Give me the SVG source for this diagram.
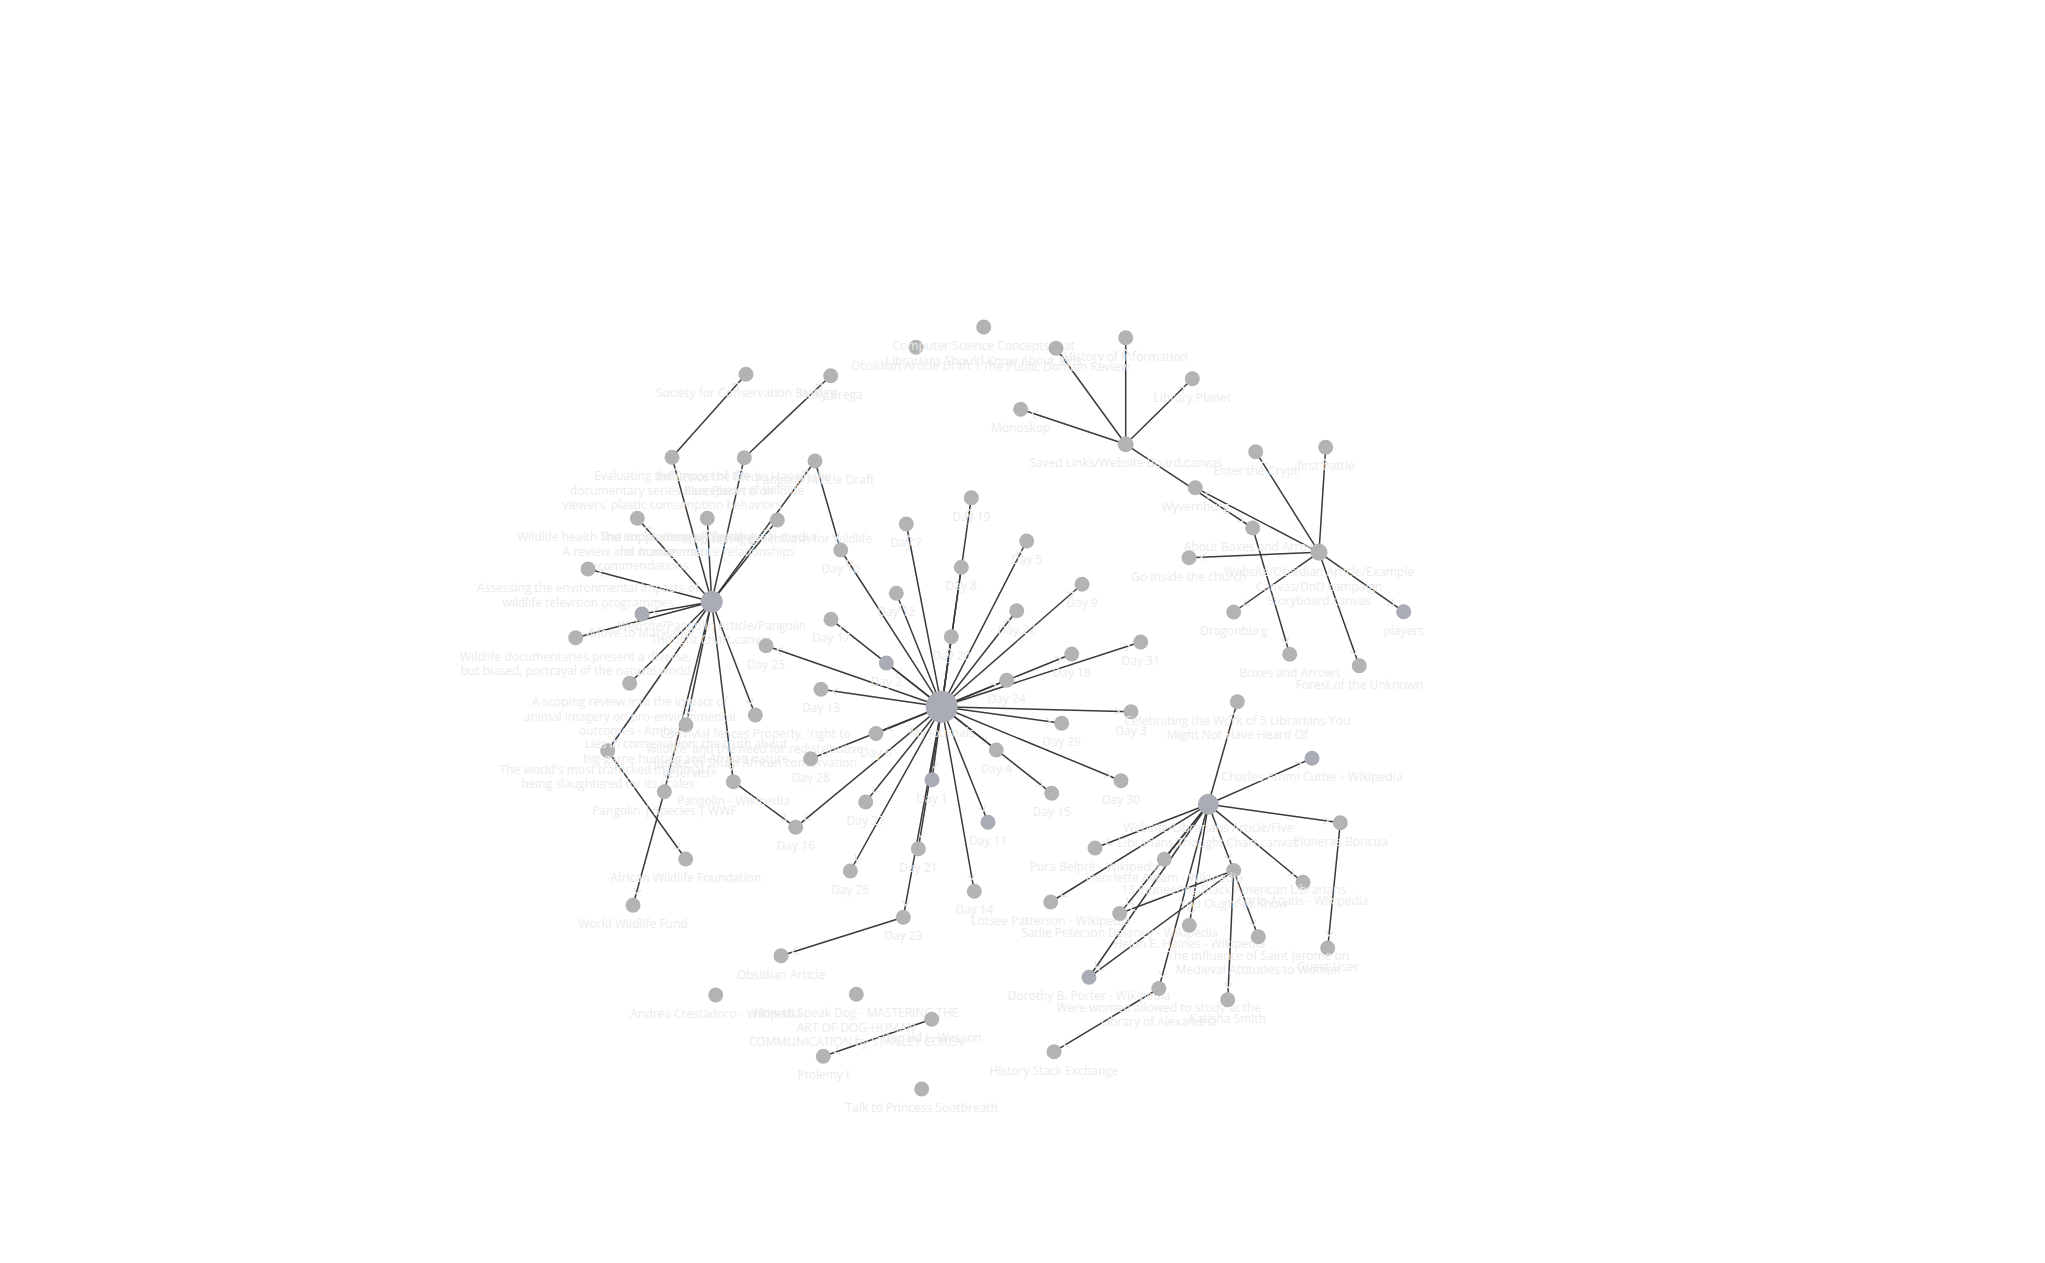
<svg xmlns="http://www.w3.org/2000/svg" width="2045" height="1263" viewBox="0 0 2045 1263">
<style>
.n{fill:#b3b3b3}
.nb{fill:#a9abb5}
.e{stroke:#3a3a3a;stroke-width:1.5;fill:none;marker-end:url(#arr)}
.t{font-family:"Open Sans","Noto Sans",sans-serif;font-size:12px;fill:#ebebeb;text-anchor:middle}
</style>
<defs>
<marker id="arr" markerUnits="userSpaceOnUse" viewBox="-10 -10 30 20" markerWidth="30" markerHeight="20" refX="12" refY="0" orient="auto" overflow="visible">
<path d="M-5,-4 L0,0 L-5,4" fill="none" stroke="#e6e6e6" stroke-width="1.2"/>
</marker>
</defs>
<rect width="2045" height="1263" fill="#ffffff"/>
<g id="connectors">
<line class="e" x1="711.7" y1="601.7" x2="672" y2="457.3"/>
<line class="e" x1="711.7" y1="601.7" x2="744.3" y2="457.7"/>
<line class="e" x1="711.7" y1="601.7" x2="815" y2="461"/>
<line class="e" x1="711.7" y1="601.7" x2="637.3" y2="518.3"/>
<line class="e" x1="711.7" y1="601.7" x2="707.3" y2="518.3"/>
<line class="e" x1="711.7" y1="601.7" x2="777.3" y2="520"/>
<line class="e" x1="711.7" y1="601.7" x2="588" y2="569"/>
<line class="e" x1="711.7" y1="601.7" x2="642" y2="614"/>
<line class="e" x1="711.7" y1="601.7" x2="575.7" y2="637.7"/>
<line class="e" x1="711.7" y1="601.7" x2="629.7" y2="683.3"/>
<line class="e" x1="711.7" y1="601.7" x2="607.7" y2="750.7"/>
<line class="e" x1="711.7" y1="601.7" x2="664.3" y2="791.7"/>
<line class="e" x1="711.7" y1="601.7" x2="686" y2="725"/>
<line class="e" x1="711.7" y1="601.7" x2="733.3" y2="781.7"/>
<line class="e" x1="711.7" y1="601.7" x2="755.3" y2="715"/>
<line class="e" x1="672" y1="457.3" x2="746" y2="374.3"/>
<line class="e" x1="744.3" y1="457.7" x2="830.7" y2="375.7"/>
<line class="e" x1="815" y1="461" x2="840.7" y2="550"/>
<line class="e" x1="607.7" y1="750.7" x2="685.7" y2="859"/>
<line class="e" x1="664.3" y1="791.7" x2="633" y2="905.3"/>
<line class="e" x1="733.3" y1="781.7" x2="795.7" y2="827.3"/>
<line class="e" x1="941.7" y1="706.7" x2="932" y2="779.7"/>
<line class="e" x1="941.7" y1="706.7" x2="886.3" y2="663"/>
<line class="e" x1="941.7" y1="706.7" x2="1131" y2="711.7"/>
<line class="e" x1="941.7" y1="706.7" x2="996.3" y2="750"/>
<line class="e" x1="941.7" y1="706.7" x2="1026.7" y2="541"/>
<line class="e" x1="941.7" y1="706.7" x2="876" y2="733.5"/>
<line class="e" x1="941.7" y1="706.7" x2="906.3" y2="524"/>
<line class="e" x1="941.7" y1="706.7" x2="961.3" y2="567.3"/>
<line class="e" x1="941.7" y1="706.7" x2="1082" y2="584.3"/>
<line class="e" x1="941.7" y1="706.7" x2="840.7" y2="550"/>
<line class="e" x1="941.7" y1="706.7" x2="988" y2="822.3"/>
<line class="e" x1="941.7" y1="706.7" x2="896.3" y2="593.3"/>
<line class="e" x1="941.7" y1="706.7" x2="821" y2="689.3"/>
<line class="e" x1="941.7" y1="706.7" x2="974.3" y2="891.3"/>
<line class="e" x1="941.7" y1="706.7" x2="1051.7" y2="793.3"/>
<line class="e" x1="941.7" y1="706.7" x2="795.7" y2="827.3"/>
<line class="e" x1="941.7" y1="706.7" x2="831" y2="619.3"/>
<line class="e" x1="941.7" y1="706.7" x2="1071.7" y2="654"/>
<line class="e" x1="941.7" y1="706.7" x2="971.3" y2="497.7"/>
<line class="e" x1="941.7" y1="706.7" x2="951.3" y2="636.7"/>
<line class="e" x1="941.7" y1="706.7" x2="918.3" y2="848.7"/>
<line class="e" x1="941.7" y1="706.7" x2="1016.7" y2="610.7"/>
<line class="e" x1="941.7" y1="706.7" x2="903.3" y2="917.3"/>
<line class="e" x1="941.7" y1="706.7" x2="1006.7" y2="680.3"/>
<line class="e" x1="941.7" y1="706.7" x2="766" y2="645.7"/>
<line class="e" x1="941.7" y1="706.7" x2="850.3" y2="871"/>
<line class="e" x1="941.7" y1="706.7" x2="865.7" y2="802"/>
<line class="e" x1="941.7" y1="706.7" x2="810.7" y2="758.7"/>
<line class="e" x1="941.7" y1="706.7" x2="1061.7" y2="723.3"/>
<line class="e" x1="941.7" y1="706.7" x2="1121" y2="780.7"/>
<line class="e" x1="941.7" y1="706.7" x2="1140.7" y2="642"/>
<line class="e" x1="903.3" y1="917.3" x2="781" y2="955.7"/>
<line class="e" x1="931.7" y1="1019.3" x2="823.3" y2="1056.3"/>
<line class="e" x1="1208.3" y1="804.3" x2="1237.3" y2="701.7"/>
<line class="e" x1="1208.3" y1="804.3" x2="1312" y2="758.3"/>
<line class="e" x1="1208.3" y1="804.3" x2="1340.3" y2="822.7"/>
<line class="e" x1="1208.3" y1="804.3" x2="1303" y2="882.3"/>
<line class="e" x1="1208.3" y1="804.3" x2="1233.7" y2="870.5"/>
<line class="e" x1="1208.3" y1="804.3" x2="1095" y2="848"/>
<line class="e" x1="1208.3" y1="804.3" x2="1164.3" y2="859.3"/>
<line class="e" x1="1208.3" y1="804.3" x2="1050.7" y2="902"/>
<line class="e" x1="1208.3" y1="804.3" x2="1119.7" y2="913.5"/>
<line class="e" x1="1208.3" y1="804.3" x2="1189.3" y2="925.3"/>
<line class="e" x1="1208.3" y1="804.3" x2="1089" y2="977.3"/>
<line class="e" x1="1208.3" y1="804.3" x2="1158.8" y2="988.5"/>
<line class="e" x1="1340.3" y1="822.7" x2="1327.7" y2="948"/>
<line class="e" x1="1233.7" y1="870.5" x2="1119.7" y2="913.5"/>
<line class="e" x1="1233.7" y1="870.5" x2="1089" y2="977.3"/>
<line class="e" x1="1233.7" y1="870.5" x2="1227.7" y2="999.7"/>
<line class="e" x1="1233.7" y1="870.5" x2="1258.3" y2="936.7"/>
<line class="e" x1="1158.8" y1="988.5" x2="1054" y2="1051.7"/>
<line class="e" x1="1125.7" y1="444.3" x2="1020.7" y2="409.3"/>
<line class="e" x1="1125.7" y1="444.3" x2="1056" y2="348.3"/>
<line class="e" x1="1125.7" y1="444.3" x2="1125.7" y2="337.7"/>
<line class="e" x1="1125.7" y1="444.3" x2="1192.3" y2="378.7"/>
<line class="e" x1="1125.7" y1="444.3" x2="1252.7" y2="528"/>
<line class="e" x1="1252.7" y1="528" x2="1289.7" y2="654.3"/>
<line class="e" x1="1319" y1="552.3" x2="1255.7" y2="451.7"/>
<line class="e" x1="1319" y1="552.3" x2="1325.7" y2="447.3"/>
<line class="e" x1="1319" y1="552.3" x2="1195.3" y2="487.7"/>
<line class="e" x1="1319" y1="552.3" x2="1189" y2="557.7"/>
<line class="e" x1="1319" y1="552.3" x2="1233.7" y2="612"/>
<line class="e" x1="1319" y1="552.3" x2="1359.3" y2="665.7"/>
<line class="e" x1="1319" y1="552.3" x2="1403.7" y2="611.7"/>
</g>
<g id="n-pangolin-hub"><circle class="nb" cx="711.7" cy="601.7" r="11"/><text class="t" x="711.7" y="629.7"><tspan x="711.7">Website/Pangolin Article/Pangolin</tspan><tspan x="711.7" dy="14.5">Thought Chart.canvas</tspan></text></g>
<g id="n-evaluating"><circle class="n" cx="672" cy="457.3" r="7.5"/><text class="t" x="672" y="480.3"><tspan x="672">Evaluating the impact of the</tspan><tspan x="672" dy="14.5">documentary series Blue Planet II on</tspan><tspan x="672" dy="14.5">viewers' plastic consumption behaviors</tspan></text></g>
<g id="n-scb"><circle class="n" cx="746" cy="374.3" r="7.5"/><text class="t" x="746" y="397.3">Society for Conservation Biology</text></g>
<g id="n-influence"><circle class="n" cx="744.3" cy="457.7" r="7.5"/><text class="t" x="744.3" y="480.7"><tspan x="744.3">Influence the Media Has on the</tspan><tspan x="744.3" dy="14.5">Perception of Wildlife</tspan></text></g>
<g id="n-holly"><circle class="n" cx="830.7" cy="375.7" r="7.5"/><text class="t" x="830.7" y="398.7">Holly Brega</text></g>
<g id="n-pangolin-draft"><circle class="n" cx="815" cy="461" r="7.5"/><text class="t" x="815" y="484">Pangolin Article Draft</text></g>
<g id="n-wildlife-health"><circle class="n" cx="637.3" cy="518.3" r="7.5"/><text class="t" x="637.3" y="541.3"><tspan x="637.3">Wildlife health and supplementary feeding:</tspan><tspan x="637.3" dy="14.5">A review and management</tspan><tspan x="637.3" dy="14.5">recommendations</tspan></text></g>
<g id="n-implications"><circle class="n" cx="707.3" cy="518.3" r="7.5"/><text class="t" x="707.3" y="541.3"><tspan x="707.3">The implications of digital visual media</tspan><tspan x="707.3" dy="14.5">for human-nature relationships</tspan></text></g>
<g id="n-stop-saying"><circle class="n" cx="777.3" cy="520" r="7.5"/><text class="t" x="777.3" y="543">Stop saying greenwash for wildlife</text></g>
<g id="n-assessing"><circle class="n" cx="588" cy="569" r="7.5"/><text class="t" x="588" y="592"><tspan x="588">Assessing the environmental impacts of</tspan><tspan x="588" dy="14.5">wildlife television programmes</tspan></text></g>
<g id="n-maryland"><circle class="nb" cx="642" cy="614" r="7.5"/><text class="t" x="642" y="637">Move to Maryland!</text></g>
<g id="n-documentaries"><circle class="n" cx="575.7" cy="637.7" r="7.5"/><text class="t" x="575.7" y="660.7"><tspan x="575.7">Wildlife documentaries present a diverse,</tspan><tspan x="575.7" dy="14.5">but biased, portrayal of the natural world</tspan></text></g>
<g id="n-scoping"><circle class="n" cx="629.7" cy="683.3" r="7.5"/><text class="t" x="629.7" y="706.3"><tspan x="629.7">A scoping review into the impact of</tspan><tspan x="629.7" dy="14.5">animal imagery on pro-environmental</tspan><tspan x="629.7" dy="14.5">outcomes - Ambio</tspan></text></g>
<g id="n-trafficked"><circle class="n" cx="607.7" cy="750.7" r="7.5"/><text class="t" x="607.7" y="773.7"><tspan x="607.7">The world's most trafficked mammal is</tspan><tspan x="607.7" dy="14.5">being slaughtered for its scales</tspan></text></g>
<g id="n-awf"><circle class="n" cx="685.7" cy="859" r="7.5"/><text class="t" x="685.7" y="882">African Wildlife Foundation</text></g>
<g id="n-pangolin-wwf"><circle class="n" cx="664.3" cy="791.7" r="7.5"/><text class="t" x="664.3" y="814.7">Pangolin | Species | WWF</text></g>
<g id="n-wwf"><circle class="n" cx="633" cy="905.3" r="7.5"/><text class="t" x="633" y="928.3">World Wildlife Fund</text></g>
<g id="n-lies"><circle class="n" cx="686" cy="725" r="7.5"/><text class="t" x="686" y="748"><tspan x="686">Lies in conservation: the truth about</tspan><tspan x="686" dy="14.5">big-game hunting and African nature</tspan><tspan x="686" dy="14.5">reserves</tspan></text></g>
<g id="n-pangolin-wiki"><circle class="n" cx="733.3" cy="781.7" r="7.5"/><text class="t" x="733.3" y="804.7">Pangolin - Wikipedia</text></g>
<g id="n-convivial"><circle class="n" cx="755.3" cy="715" r="7.5"/><text class="t" x="755.3" y="738"><tspan x="755.3">Convivial fences Property, 'right to</tspan><tspan x="755.3" dy="14.5">wildlife' and the need for redistributive</tspan><tspan x="755.3" dy="14.5">justice in South African conservation</tspan></text></g>
<g id="n-day1"><circle class="nb" cx="932" cy="779.7" r="7.5"/><text class="t" x="932" y="802.7">Day 1</text></g>
<g id="n-day2"><circle class="nb" cx="886.3" cy="663" r="7.5"/><text class="t" x="886.3" y="686">Day 2</text></g>
<g id="n-day3"><circle class="n" cx="1131" cy="711.7" r="7.5"/><text class="t" x="1131" y="734.7">Day 3</text></g>
<g id="n-day4"><circle class="n" cx="996.3" cy="750" r="7.5"/><text class="t" x="996.3" y="773">Day 4</text></g>
<g id="n-day5"><circle class="n" cx="1026.7" cy="541" r="7.5"/><text class="t" x="1026.7" y="564">Day 5</text></g>
<g id="n-day6"><circle class="n" cx="876" cy="733.5" r="7.5"/><text class="t" x="876" y="756.5">Day 6</text></g>
<g id="n-day7"><circle class="n" cx="906.3" cy="524" r="7.5"/><text class="t" x="906.3" y="547">Day 7</text></g>
<g id="n-day8"><circle class="n" cx="961.3" cy="567.3" r="7.5"/><text class="t" x="961.3" y="590.3">Day 8</text></g>
<g id="n-day9"><circle class="n" cx="1082" cy="584.3" r="7.5"/><text class="t" x="1082" y="607.3">Day 9</text></g>
<g id="n-day10"><circle class="n" cx="840.7" cy="550" r="7.5"/><text class="t" x="840.7" y="573">Day 10</text></g>
<g id="n-day11"><circle class="nb" cx="988" cy="822.3" r="7.5"/><text class="t" x="988" y="845.3">Day 11</text></g>
<g id="n-day12"><circle class="n" cx="896.3" cy="593.3" r="7.5"/><text class="t" x="896.3" y="616.3">Day 12</text></g>
<g id="n-day13"><circle class="n" cx="821" cy="689.3" r="7.5"/><text class="t" x="821" y="712.3">Day 13</text></g>
<g id="n-day14"><circle class="n" cx="974.3" cy="891.3" r="7.5"/><text class="t" x="974.3" y="914.3">Day 14</text></g>
<g id="n-day15"><circle class="n" cx="1051.7" cy="793.3" r="7.5"/><text class="t" x="1051.7" y="816.3">Day 15</text></g>
<g id="n-day16"><circle class="n" cx="795.7" cy="827.3" r="7.5"/><text class="t" x="795.7" y="850.3">Day 16</text></g>
<g id="n-day17"><circle class="n" cx="831" cy="619.3" r="7.5"/><text class="t" x="831" y="642.3">Day 17</text></g>
<g id="n-day18"><circle class="n" cx="1071.7" cy="654" r="7.5"/><text class="t" x="1071.7" y="677">Day 18</text></g>
<g id="n-day19"><circle class="n" cx="971.3" cy="497.7" r="7.5"/><text class="t" x="971.3" y="520.7">Day 19</text></g>
<g id="n-day20"><circle class="n" cx="951.3" cy="636.7" r="7.5"/><text class="t" x="951.3" y="659.7">Day 20</text></g>
<g id="n-day21"><circle class="n" cx="918.3" cy="848.7" r="7.5"/><text class="t" x="918.3" y="871.7">Day 21</text></g>
<g id="n-day22"><circle class="n" cx="1016.7" cy="610.7" r="7.5"/><text class="t" x="1016.7" y="633.7">Day 22</text></g>
<g id="n-day23"><circle class="n" cx="903.3" cy="917.3" r="7.5"/><text class="t" x="903.3" y="940.3">Day 23</text></g>
<g id="n-day24"><circle class="n" cx="1006.7" cy="680.3" r="7.5"/><text class="t" x="1006.7" y="703.3">Day 24</text></g>
<g id="n-day25"><circle class="n" cx="766" cy="645.7" r="7.5"/><text class="t" x="766" y="668.7">Day 25</text></g>
<g id="n-day26"><circle class="n" cx="850.3" cy="871" r="7.5"/><text class="t" x="850.3" y="894">Day 26</text></g>
<g id="n-day27"><circle class="n" cx="865.7" cy="802" r="7.5"/><text class="t" x="865.7" y="825">Day 27</text></g>
<g id="n-day28"><circle class="n" cx="810.7" cy="758.7" r="7.5"/><text class="t" x="810.7" y="781.7">Day 28</text></g>
<g id="n-day29"><circle class="n" cx="1061.7" cy="723.3" r="7.5"/><text class="t" x="1061.7" y="746.3">Day 29</text></g>
<g id="n-day30"><circle class="n" cx="1121" cy="780.7" r="7.5"/><text class="t" x="1121" y="803.7">Day 30</text></g>
<g id="n-day31"><circle class="n" cx="1140.7" cy="642" r="7.5"/><text class="t" x="1140.7" y="665">Day 31</text></g>
<g id="n-journal-hub"><circle class="nb" cx="941.7" cy="706.7" r="16"/><text class="t" x="941.7" y="736.7">My Journals</text></g>
<g id="n-obsidian-article"><circle class="n" cx="781" cy="955.7" r="7.5"/><text class="t" x="781" y="978.7">Obsidian Article</text></g>
<g id="n-crestadoro"><circle class="n" cx="715.7" cy="995" r="7.5"/><text class="t" x="715.7" y="1018">Andrea Crestadoro - Wikipedia</text></g>
<g id="n-speak-dog"><circle class="n" cx="856.3" cy="994.3" r="7.5"/><text class="t" x="856.3" y="1017.3"><tspan x="856.3">How to Speak Dog - MASTERING THE</tspan><tspan x="856.3" dy="14.5">ART OF DOG-HUMAN</tspan><tspan x="856.3" dy="14.5">COMMUNICATION by STANLEY COREN</tspan></text></g>
<g id="n-wasson"><circle class="n" cx="931.7" cy="1019.3" r="7.5"/><text class="t" x="931.7" y="1042.3">Donald L. Wasson</text></g>
<g id="n-ptolemy"><circle class="n" cx="823.3" cy="1056.3" r="7.5"/><text class="t" x="823.3" y="1079.3">Ptolemy I</text></g>
<g id="n-sootbreath"><circle class="n" cx="921.7" cy="1089" r="7.5"/><text class="t" x="921.7" y="1112">Talk to Princess Sootbreath</text></g>
<g id="n-librarians-hub"><circle class="nb" cx="1208.3" cy="804.3" r="10.5"/><text class="t" x="1208.3" y="832.3"><tspan x="1208.3">Website/Librarians Article/Five</tspan><tspan x="1208.3" dy="14.5">Librarians Thought Chart.canvas</tspan></text></g>
<g id="n-celebrating"><circle class="n" cx="1237.3" cy="701.7" r="7.5"/><text class="t" x="1237.3" y="724.7"><tspan x="1237.3">Celebrating the Work of 5 Librarians You</tspan><tspan x="1237.3" dy="14.5">Might Not Have Heard Of</tspan></text></g>
<g id="n-cutter"><circle class="nb" cx="1312" cy="758.3" r="7.5"/><text class="t" x="1312" y="781.3">Charles Ammi Cutter - Wikipedia</text></g>
<g id="n-pioneras"><circle class="n" cx="1340.3" cy="822.7" r="7.5"/><text class="t" x="1340.3" y="845.7">Pioneras Boricua</text></g>
<g id="n-guest"><circle class="n" cx="1327.7" cy="948" r="7.5"/><text class="t" x="1327.7" y="971">Guest User</text></g>
<g id="n-acutis"><circle class="n" cx="1303" cy="882.3" r="7.5"/><text class="t" x="1303" y="905.3">Carlo Acutis - Wikipedia</text></g>
<g id="n-pioneering"><circle class="n" cx="1233.7" cy="870.5" r="7.5"/><text class="t" x="1233.7" y="893.5"><tspan x="1233.7">13 Pioneering Black American Librarians</tspan><tspan x="1233.7" dy="14.5">You Ought to Know</tspan></text></g>
<g id="n-belpre"><circle class="n" cx="1095" cy="848" r="7.5"/><text class="t" x="1095" y="871">Pura Belpré - Wikipedia</text></g>
<g id="n-avram"><circle class="n" cx="1164.3" cy="859.3" r="7.5"/><text class="t" x="1164.3" y="882.3">Henriette Avram - Wikipedia</text></g>
<g id="n-patterson"><circle class="n" cx="1050.7" cy="902" r="7.5"/><text class="t" x="1050.7" y="925">Lotsee Patterson - Wikipedia</text></g>
<g id="n-delaney"><circle class="n" cx="1119.7" cy="913.5" r="7.5"/><text class="t" x="1119.7" y="936.5">Sadie Peterson Delaney - Wikipedia</text></g>
<g id="n-haines"><circle class="n" cx="1189.3" cy="925.3" r="7.5"/><text class="t" x="1189.3" y="948.3">Helen E. Haines - Wikipedia</text></g>
<g id="n-porter"><circle class="nb" cx="1089" cy="977.3" r="7.5"/><text class="t" x="1089" y="1000.3">Dorothy B. Porter - Wikipedia</text></g>
<g id="n-alexandria"><circle class="n" cx="1158.8" cy="988.5" r="7.5"/><text class="t" x="1158.8" y="1011.5"><tspan x="1158.8">Were women allowed to study at the</tspan><tspan x="1158.8" dy="14.5">Library of Alexandria</tspan></text></g>
<g id="n-katisha"><circle class="n" cx="1227.7" cy="999.7" r="7.5"/><text class="t" x="1227.7" y="1022.7">Katisha Smith</text></g>
<g id="n-jerome"><circle class="n" cx="1258.3" cy="936.7" r="7.5"/><text class="t" x="1258.3" y="959.7"><tspan x="1258.3">The Influence of Saint Jerome on</tspan><tspan x="1258.3" dy="14.5">Medieval Attitudes to Women</tspan></text></g>
<g id="n-history-se"><circle class="n" cx="1054" cy="1051.7" r="7.5"/><text class="t" x="1054" y="1074.7">History Stack Exchange</text></g>
<g id="n-obsidian-draft1"><circle class="n" cx="916" cy="347.3" r="7.5"/><text class="t" x="916" y="370.3">Obsidian Article Draft 1</text></g>
<g id="n-cs-concepts"><circle class="n" cx="983.7" cy="327" r="7.5"/><text class="t" x="983.7" y="350"><tspan x="983.7">Computer Science Concepts that</tspan><tspan x="983.7" dy="14.5">Librarians Should Know About APIs</tspan></text></g>
<g id="n-saved-hub"><circle class="n" cx="1125.7" cy="444.3" r="8"/><text class="t" x="1125.7" y="467.3">Saved Links/Website Board.canvas</text></g>
<g id="n-monoskop"><circle class="n" cx="1020.7" cy="409.3" r="7.5"/><text class="t" x="1020.7" y="432.3">Monoskop</text></g>
<g id="n-pdr"><circle class="n" cx="1056" cy="348.3" r="7.5"/><text class="t" x="1056" y="371.3">The Public Domain Review</text></g>
<g id="n-hoi"><circle class="n" cx="1125.7" cy="337.7" r="7.5"/><text class="t" x="1125.7" y="360.7">History of Information</text></g>
<g id="n-libplanet"><circle class="n" cx="1192.3" cy="378.7" r="7.5"/><text class="t" x="1192.3" y="401.7">Library Planet</text></g>
<g id="n-about-boxes"><circle class="n" cx="1252.7" cy="528" r="7.5"/><text class="t" x="1252.7" y="551">About Boxes and Arrows</text></g>
<g id="n-boxes"><circle class="n" cx="1289.7" cy="654.3" r="7.5"/><text class="t" x="1289.7" y="677.3">Boxes and Arrows</text></g>
<g id="n-crypt"><circle class="n" cx="1255.7" cy="451.7" r="7.5"/><text class="t" x="1255.7" y="474.7">Enter the Crypt</text></g>
<g id="n-battle"><circle class="n" cx="1325.7" cy="447.3" r="7.5"/><text class="t" x="1325.7" y="470.3">first battle</text></g>
<g id="n-wyvernburg"><circle class="n" cx="1195.3" cy="487.7" r="7.5"/><text class="t" x="1195.3" y="510.7">Wyvernburg</text></g>
<g id="n-church"><circle class="n" cx="1189" cy="557.7" r="7.5"/><text class="t" x="1189" y="580.7">Go inside the church</text></g>
<g id="n-dragonburg"><circle class="n" cx="1233.7" cy="612" r="7.5"/><text class="t" x="1233.7" y="635">Dragonburg</text></g>
<g id="n-forest"><circle class="n" cx="1359.3" cy="665.7" r="7.5"/><text class="t" x="1359.3" y="688.7">Forest of the Unknown</text></g>
<g id="n-players"><circle class="nb" cx="1403.7" cy="611.7" r="7.5"/><text class="t" x="1403.7" y="634.7">players</text></g>
<g id="n-dnd-hub"><circle class="n" cx="1319" cy="552.3" r="8.5"/><text class="t" x="1319" y="576.3"><tspan x="1319">Website/Obsidian Article/Example</tspan><tspan x="1319" dy="14.5">Canvas/DnD campaign</tspan><tspan x="1319" dy="14.5">Storyboard.canvas</tspan></text></g>
</svg>
